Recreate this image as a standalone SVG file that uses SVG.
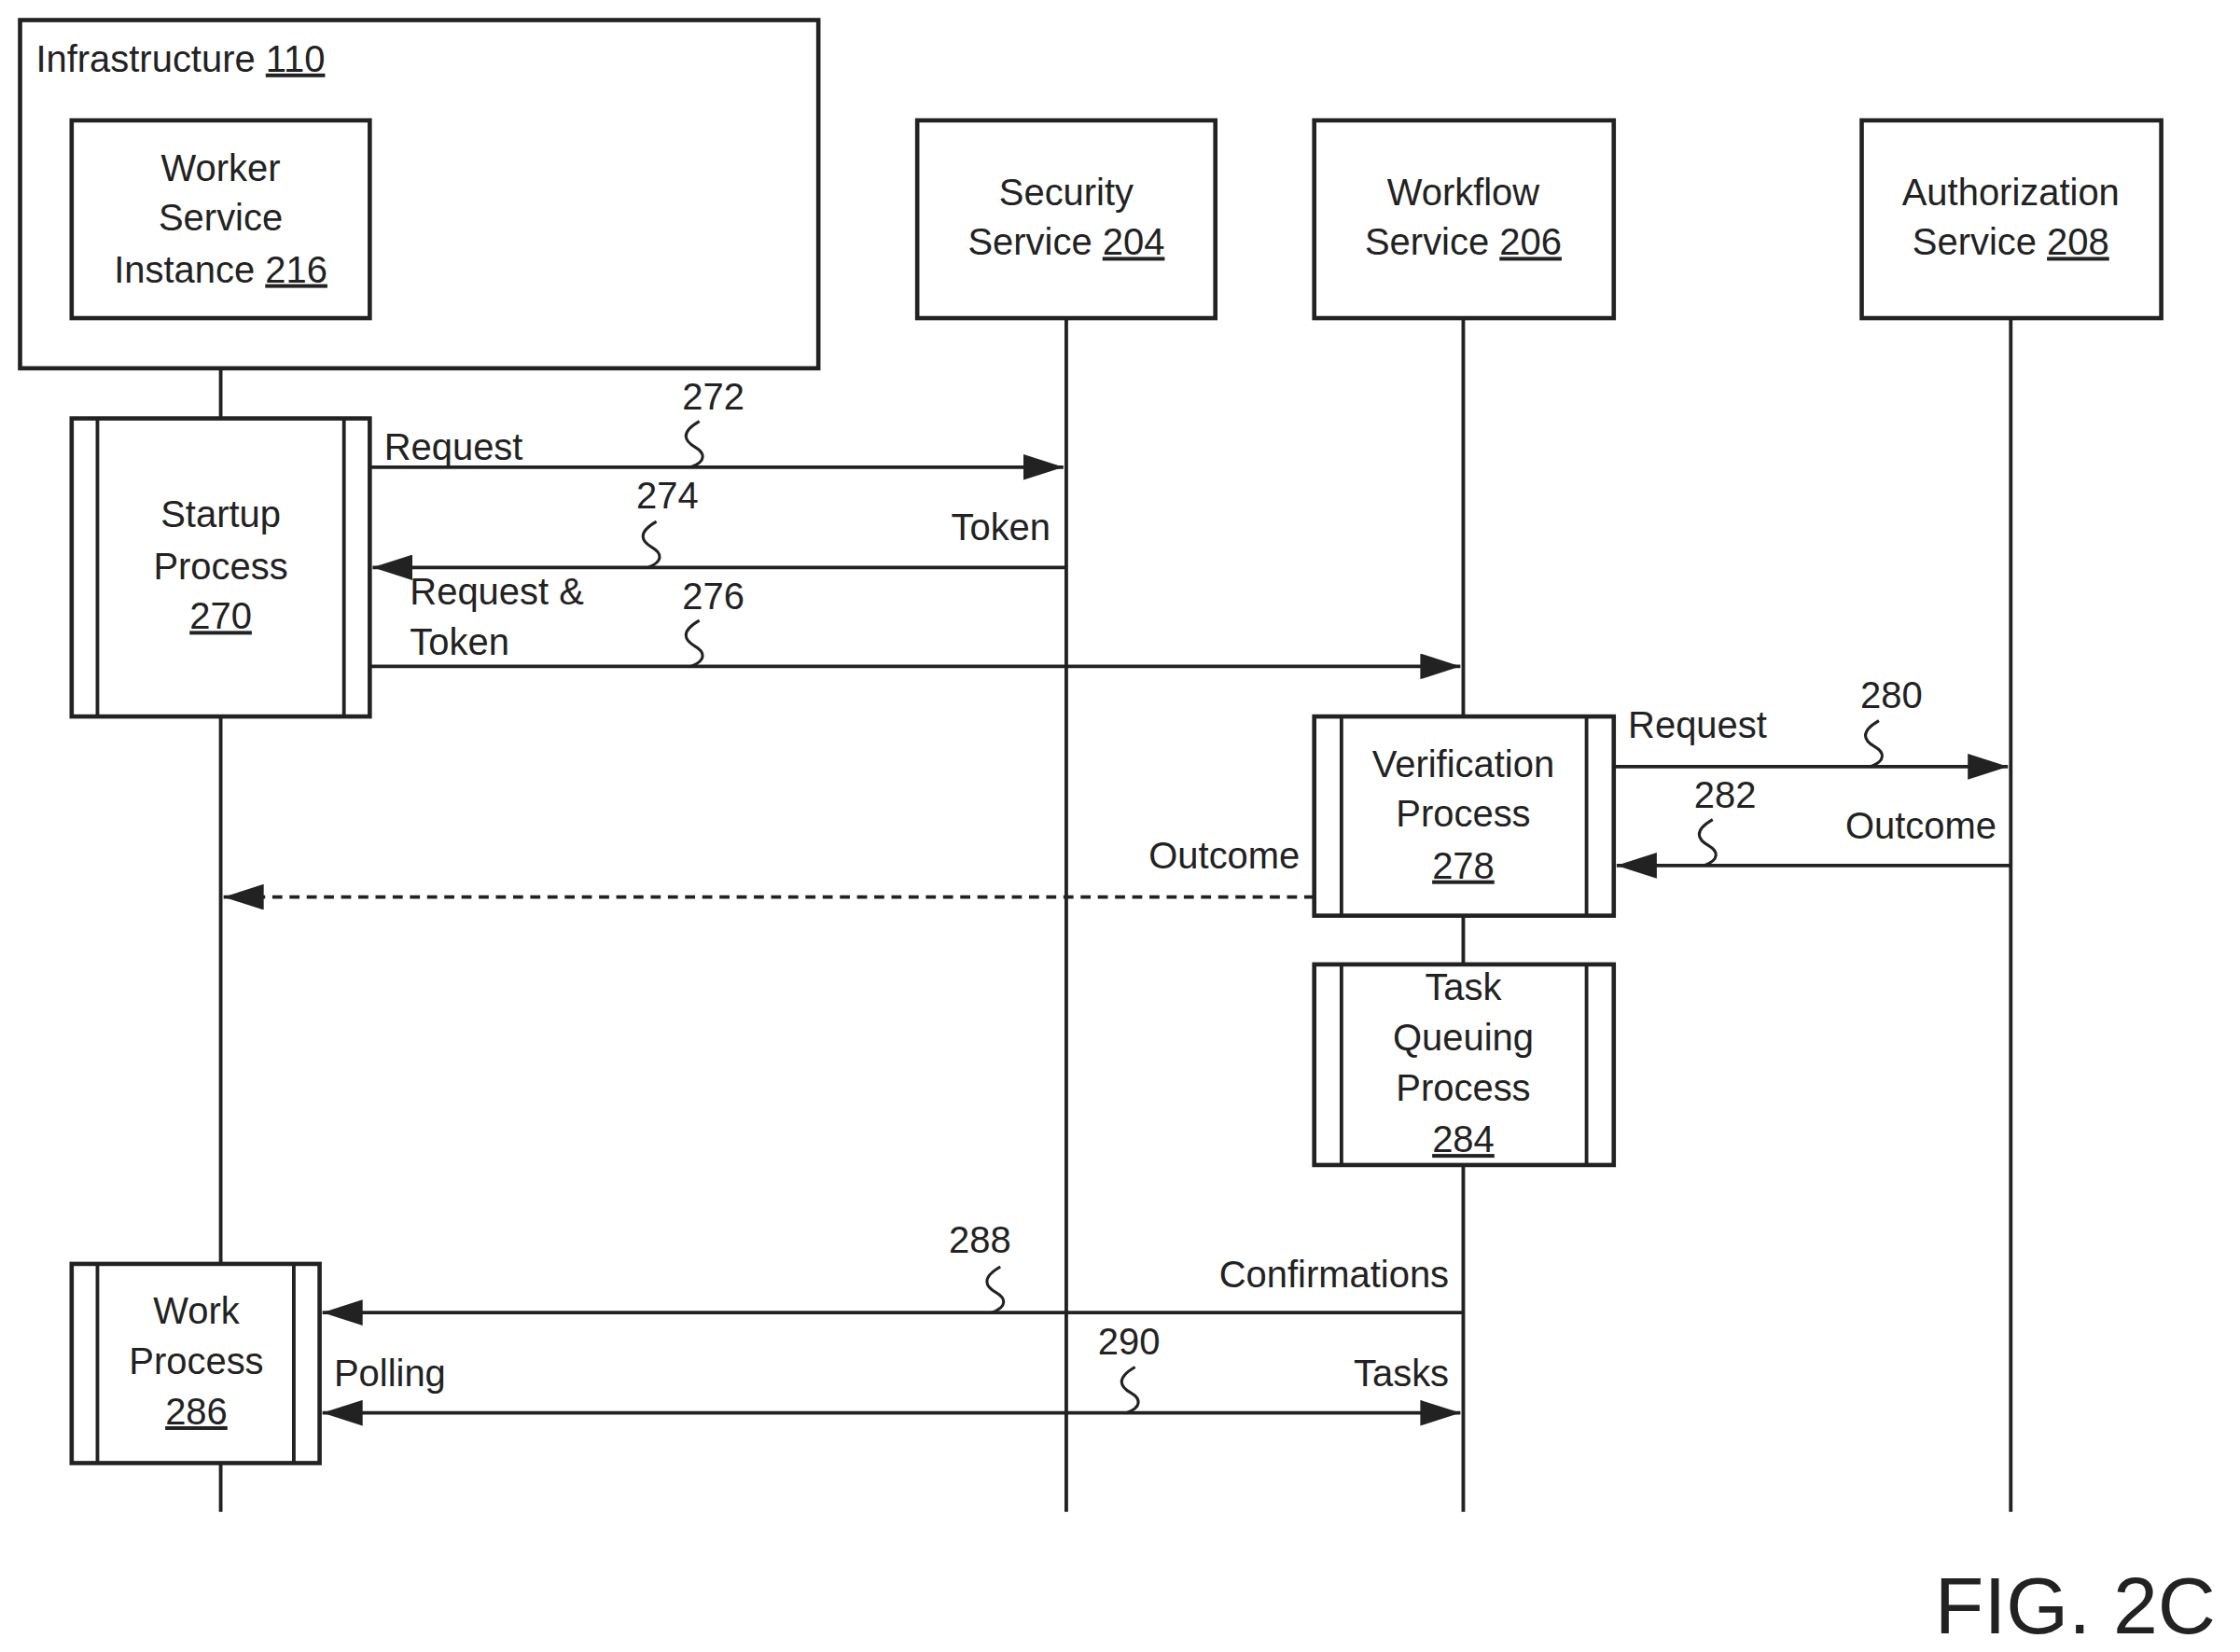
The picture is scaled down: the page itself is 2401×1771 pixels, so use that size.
<svg xmlns="http://www.w3.org/2000/svg" width="2401" height="1771" viewBox="0 0 2401 1771">
<style>
text{font-family:"Liberation Sans",Arial,sans-serif;font-size:26px;fill:#222}
.c{text-anchor:middle}
.e{text-anchor:end}
.u{text-decoration:underline}
.box{fill:#fff;stroke:#222;stroke-width:3}
.ll{stroke:#222;stroke-width:2.5;fill:none}
.ar{stroke:#222;stroke-width:2.5;fill:none}
.sq{stroke:#222;stroke-width:2;fill:none}
</style>
<defs>
<marker id="a2" viewBox="0 0 28 18" refX="28" refY="9" markerWidth="28" markerHeight="18" markerUnits="userSpaceOnUse" orient="auto-start-reverse"><path d="M0,0 L28,9 L0,18z" fill="#222"/></marker>
</defs>
<rect width="2401" height="1771" fill="#fff"/>
<g transform="scale(1.5362)">
<g id="lifelines">
<path class="ll" d="M154,222V292M154,500V882M154,1021V1055M744,222V1055M1021,222V500M1021,639V673M1021,813V1055M1403,222V1055"/>
</g>
<g id="infrastructure"><rect class="box" x="14" y="14" width="557" height="243"/><text x="25" y="50">Infrastructure <tspan class="u">110</tspan></text></g>
<g id="worker"><rect class="box" x="50" y="84" width="208" height="138"/><text class="c" x="154" y="126">Worker</text><text class="c" x="154" y="161">Service</text><text class="c" x="154" y="197">Instance <tspan class="u">216</tspan></text></g>
<g id="security"><rect class="box" x="640" y="84" width="208" height="138"/><text class="c" x="744" y="143">Security</text><text class="c" x="744" y="178">Service <tspan class="u">204</tspan></text></g>
<g id="workflow"><rect class="box" x="917" y="84" width="209" height="138"/><text class="c" x="1021" y="143">Workflow</text><text class="c" x="1021" y="178">Service <tspan class="u">206</tspan></text></g>
<g id="authorization"><rect class="box" x="1299" y="84" width="209" height="138"/><text class="c" x="1403" y="143">Authorization</text><text class="c" x="1403" y="178">Service <tspan class="u">208</tspan></text></g>
<g id="startup"><rect class="box" x="50" y="292" width="208" height="208"/><path class="ll" d="M68,292V500M240,292V500"/><text class="c" x="154" y="368">Startup</text><text class="c" x="154" y="404">Process</text><text class="c u" x="154" y="439">270</text></g>
<g id="verification"><rect class="box" x="917" y="500" width="209" height="139"/><path class="ll" d="M936,500V639M1107,500V639"/><text class="c" x="1021" y="542">Verification</text><text class="c" x="1021" y="577">Process</text><text class="c u" x="1021" y="613">278</text></g>
<g id="taskqueue"><rect class="box" x="917" y="673" width="209" height="140"/><path class="ll" d="M936,673V813M1107,673V813"/><text class="c" x="1021" y="698">Task</text><text class="c" x="1021" y="733">Queuing</text><text class="c" x="1021" y="768">Process</text><text class="c u" x="1021" y="804">284</text></g>
<g id="work"><rect class="box" x="50" y="882" width="173" height="139"/><path class="ll" d="M68,882V1021M205,882V1021"/><text class="c" x="137" y="924">Work</text><text class="c" x="137" y="959">Process</text><text class="c u" x="137" y="994">286</text></g>
<g id="connectors">
<path class="ar" d="M258,326H742" marker-end="url(#a2)"/>
<path class="ar" d="M744,396H260" marker-end="url(#a2)"/>
<path class="ar" d="M258,465H1019" marker-end="url(#a2)"/>
<path class="ar" d="M1126,535H1401" marker-end="url(#a2)"/>
<path class="ar" d="M1403,604H1128" marker-end="url(#a2)"/>
<path class="ar" d="M917,626H156" stroke-dasharray="7,5" marker-end="url(#a2)"/>
<path class="ar" d="M1021,916H225" marker-end="url(#a2)"/>
<path class="ar" d="M225,986H1019" marker-start="url(#a2)" marker-end="url(#a2)"/>
<path class="sq" d="M488,294c-14,8-10,14-3,18s8,10-3,14"/>
<path class="sq" d="M458,364c-14,8-10,14-3,18s8,10-3,14"/>
<path class="sq" d="M488,433c-14,8-10,14-3,18s8,10-3,14"/>
<path class="sq" d="M1311,503c-14,8-10,14-3,18s8,10-3,14"/>
<path class="sq" d="M1195,572c-14,8-10,14-3,18s8,10-3,14"/>
<path class="sq" d="M698,884c-14,8-10,14-3,18s8,10-3,14"/>
<path class="sq" d="M792,954c-14,8-10,14-3,18s8,10-3,14"/>
<text x="268" y="321">Request</text>
<text x="476" y="286">272</text>
<text x="444" y="355">274</text>
<text class="e" x="733" y="377">Token</text>
<text x="286" y="422">Request &amp;</text>
<text x="286" y="457">Token</text>
<text x="476" y="425">276</text>
<text x="1136" y="515">Request</text>
<text x="1298" y="494">280</text>
<text x="1182" y="564">282</text>
<text class="e" x="1393" y="585">Outcome</text>
<text class="e" x="907" y="606">Outcome</text>
<text x="662" y="874">288</text>
<text class="e" x="1011" y="898">Confirmations</text>
<text x="766" y="945">290</text>
<text x="233" y="967">Polling</text>
<text class="e" x="1011" y="967">Tasks</text>
</g>
<text x="1350" y="1140" style="font-size:56px">FIG. 2C</text>
</g>
</svg>
